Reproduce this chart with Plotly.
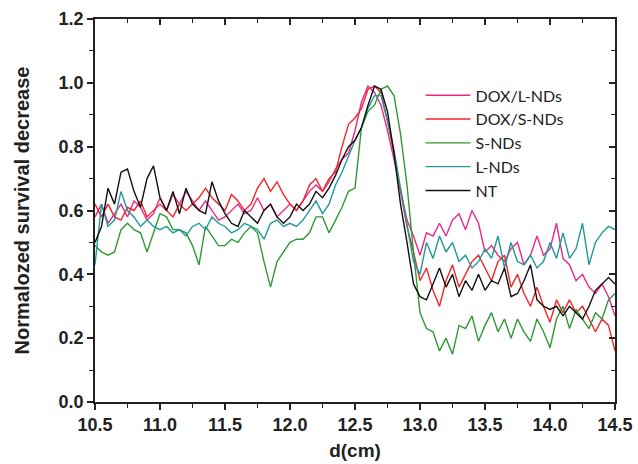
import plotly.graph_objects as go

# distance along the sample, cm (0.05 cm step)
d_cm = [round(10.5 + 0.05 * i, 2) for i in range(81)]

dox_l_nds = [0.58, 0.62, 0.56, 0.59, 0.62, 0.58, 0.63, 0.61, 0.57, 0.59,
             0.64, 0.60, 0.65, 0.62, 0.66, 0.63, 0.60, 0.63, 0.60, 0.57,
             0.58, 0.60, 0.62, 0.59, 0.60, 0.64, 0.60, 0.62, 0.58, 0.60,
             0.62, 0.60, 0.63, 0.66, 0.68, 0.66, 0.69, 0.73, 0.76, 0.78,
             0.85, 0.94, 0.99, 0.97, 0.93, 0.85, 0.76, 0.67, 0.57, 0.52,
             0.46, 0.53, 0.52, 0.56, 0.52, 0.57, 0.59, 0.54, 0.60, 0.56,
             0.47, 0.49, 0.46, 0.44, 0.48, 0.50, 0.43, 0.46, 0.52, 0.46,
             0.48, 0.56, 0.45, 0.43, 0.38, 0.40, 0.36, 0.34, 0.37, 0.33,
             0.27]

dox_s_nds = [0.62, 0.58, 0.62, 0.58, 0.57, 0.61, 0.60, 0.63, 0.58, 0.60,
             0.62, 0.60, 0.58, 0.62, 0.60, 0.62, 0.64, 0.67, 0.64, 0.62,
             0.60, 0.65, 0.63, 0.60, 0.62, 0.67, 0.70, 0.66, 0.69, 0.65,
             0.62, 0.60, 0.63, 0.68, 0.70, 0.66, 0.70, 0.72, 0.80, 0.87,
             0.89, 0.92, 0.98, 0.99, 0.97, 0.88, 0.78, 0.66, 0.55, 0.47,
             0.38, 0.42, 0.35, 0.30, 0.38, 0.43, 0.36, 0.40, 0.44, 0.46,
             0.42, 0.38, 0.44, 0.46, 0.36, 0.40, 0.34, 0.30, 0.36, 0.30,
             0.25, 0.32, 0.28, 0.32, 0.28, 0.30, 0.26, 0.22, 0.26, 0.24,
             0.16]

s_nds = [0.49, 0.47, 0.46, 0.47, 0.54, 0.56, 0.54, 0.53, 0.47, 0.53,
         0.59, 0.58, 0.54, 0.54, 0.53, 0.49, 0.43, 0.55, 0.52, 0.49,
         0.49, 0.51, 0.50, 0.53, 0.55, 0.53, 0.44, 0.36, 0.44, 0.47,
         0.50, 0.51, 0.51, 0.53, 0.58, 0.58, 0.53, 0.57, 0.61, 0.66,
         0.67, 0.86, 0.91, 0.93, 0.98, 0.99, 0.96, 0.84, 0.68, 0.47,
         0.28, 0.23, 0.22, 0.16, 0.20, 0.15, 0.24, 0.23, 0.27, 0.19,
         0.24, 0.28, 0.22, 0.26, 0.20, 0.26, 0.22, 0.19, 0.26, 0.22,
         0.17, 0.26, 0.30, 0.23, 0.29, 0.26, 0.23, 0.28, 0.26, 0.32,
         0.34]

l_nds = [0.43, 0.62, 0.55, 0.57, 0.66, 0.60, 0.58, 0.55, 0.57, 0.55,
         0.54, 0.55, 0.53, 0.54, 0.52, 0.55, 0.56, 0.54, 0.58, 0.56,
         0.55, 0.53, 0.54, 0.56, 0.55, 0.54, 0.51, 0.56, 0.57, 0.55,
         0.56, 0.55, 0.57, 0.60, 0.63, 0.59, 0.62, 0.68, 0.72, 0.77,
         0.82, 0.86, 0.92, 0.96, 0.96, 0.88, 0.79, 0.67, 0.55, 0.44,
         0.40, 0.50, 0.45, 0.52, 0.47, 0.50, 0.44, 0.46, 0.42, 0.44,
         0.48, 0.45, 0.52, 0.42, 0.50, 0.44, 0.43, 0.46, 0.42, 0.44,
         0.50, 0.45, 0.53, 0.45, 0.48, 0.56, 0.43, 0.50, 0.53, 0.55,
         0.54]

nt = [0.50, 0.55, 0.67, 0.62, 0.72, 0.73, 0.66, 0.61, 0.70, 0.74,
      0.64, 0.60, 0.66, 0.59, 0.67, 0.62, 0.60, 0.59, 0.69, 0.63,
      0.59, 0.56, 0.55, 0.60, 0.58, 0.56, 0.60, 0.62, 0.58, 0.56,
      0.58, 0.62, 0.60, 0.62, 0.66, 0.64, 0.67, 0.71, 0.76, 0.80,
      0.82, 0.86, 0.93, 0.99, 0.98, 0.91, 0.78, 0.62, 0.50, 0.37,
      0.33, 0.32, 0.37, 0.42, 0.36, 0.40, 0.33, 0.38, 0.35, 0.40,
      0.35, 0.38, 0.37, 0.42, 0.33, 0.34, 0.38, 0.43, 0.32, 0.30,
      0.29, 0.30, 0.27, 0.30, 0.28, 0.26, 0.30, 0.35, 0.37, 0.39,
      0.37]

series = [
    ("DOX/L-NDs", dox_l_nds, "#e8288a"),
    ("DOX/S-NDs", dox_s_nds, "#f5242a"),
    ("S-NDs", s_nds, "#2f9a34"),
    ("L-NDs", l_nds, "#21999a"),
    ("NT", nt, "#111111"),
]

x_ticks = [10.5, 11.0, 11.5, 12.0, 12.5, 13.0, 13.5, 14.0, 14.5]
y_ticks = [0.0, 0.2, 0.4, 0.6, 0.8, 1.0, 1.2]

fig = go.Figure()
for name, vals, color in series:
    fig.add_trace(go.Scatter(
        x=d_cm, y=vals, mode="lines", name=name,
        line=dict(color=color, width=1.4),
        legendgroup=name,
    ))

# invisible copy on the frame axes so the top/right axes (inward ticks) are drawn
fig.add_trace(go.Scatter(x=d_cm, y=nt, xaxis="x2", yaxis="y2", mode="lines",
                         line=dict(width=0, color="rgba(0,0,0,0)"),
                         showlegend=False, hoverinfo="skip"))

sans = "Liberation Sans, Arial, sans-serif"
ink = "#222222"
tick_font = dict(family=sans, size=18, color=ink)
axis_common = dict(showgrid=False, zeroline=False, showline=True, linecolor=ink,
                   linewidth=1.5, ticklen=6, tickwidth=1.5, tickcolor=ink,
                   automargin=False)

fig.update_layout(
    width=638, height=464,
    margin=dict(l=95, r=23, t=19, b=62),
    paper_bgcolor="white", plot_bgcolor="white",
    showlegend=True,
    legend=dict(x=0.626, y=0.845, xanchor="left", yanchor="top",
                font=dict(family="Liberation Sans Narrow, Lato, sans-serif", size=16, color=ink),
                bgcolor="rgba(0,0,0,0)", tracegroupgap=7, traceorder="normal",
                itemwidth=45),
    xaxis=dict(range=[10.5, 14.5], tickvals=x_ticks,
               ticktext=[f"<b>{v:.1f}</b>" for v in x_ticks], ticks="outside",
               tickfont=tick_font, mirror=True,
               minor=dict(dtick=0.25, ticks="outside", ticklen=4, tickwidth=1.2, tickcolor=ink),
               title=dict(text="<b>d(cm)</b>", font=dict(family=sans, size=19, color=ink), standoff=9),
               **axis_common),
    yaxis=dict(range=[0, 1.2], tickvals=y_ticks,
               ticktext=[f"<b>{v:.1f}</b>" for v in y_ticks], ticks="outside",
               tickfont=tick_font, mirror=True,
               minor=dict(dtick=0.1, ticks="outside", ticklen=4, tickwidth=1.2, tickcolor=ink),
               title=dict(text="<b>Normalozed survival decrease</b>", font=dict(family=sans, size=20, color=ink), standoff=24),
               **axis_common),
    xaxis2=dict(range=[10.5, 14.5], overlaying="x", side="top", tickvals=x_ticks,
                showticklabels=False, ticks="inside",
                minor=dict(dtick=0.25, ticks="inside", ticklen=4, tickwidth=1.2, tickcolor=ink),
                **axis_common),
    yaxis2=dict(range=[0, 1.2], overlaying="y", side="right", tickvals=y_ticks,
                showticklabels=False, ticks="inside",
                minor=dict(dtick=0.1, ticks="inside", ticklen=4, tickwidth=1.2, tickcolor=ink),
                **axis_common),
)

fig.write_html("out.html")
